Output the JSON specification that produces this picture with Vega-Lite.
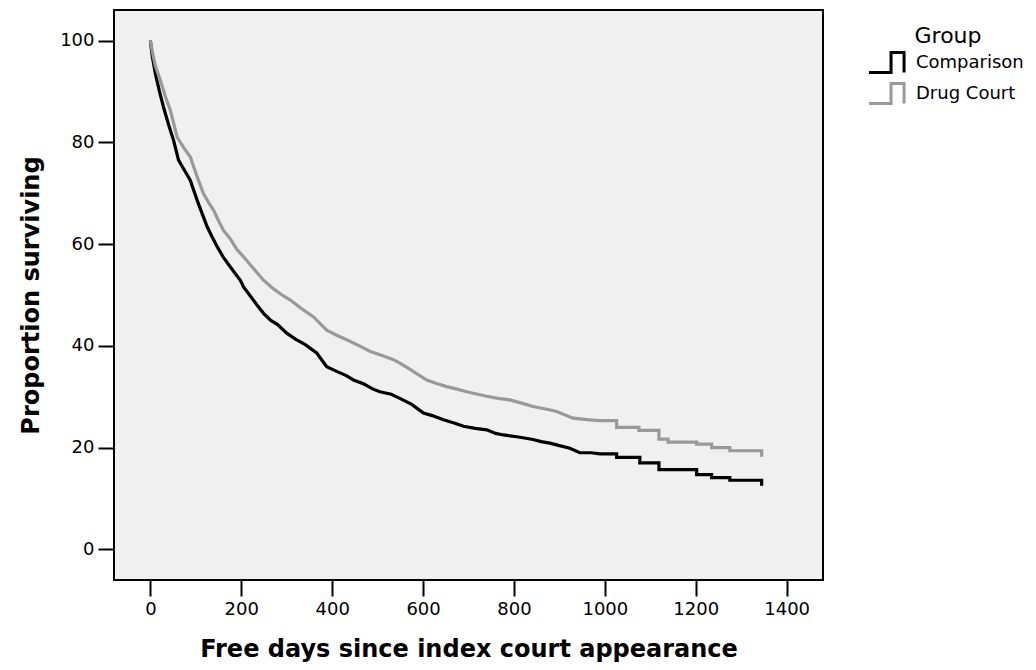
{
  "$schema": "https://vega.github.io/schema/vega-lite/v6.json",
  "width": 709,
  "height": 570,
  "autosize": "none",
  "padding": {"left": 114, "top": 10, "right": 213, "bottom": 90},
  "background": "white",
  "config": {
    "view": {"fill": "#f0f0f0", "stroke": "black", "strokeWidth": 2},
    "axis": {
      "domain": false,
      "grid": false,
      "ticks": true,
      "tickColor": "black",
      "tickWidth": 2,
      "tickSize": 16,
      "labelPadding": 4,
      "labelFont": "DejaVu Sans",
      "labelFontSize": 18,
      "labelColor": "black",
      "titleFont": "DejaVu Sans",
      "titleFontSize": 24,
      "titleFontWeight": "bold",
      "titleColor": "black"
    }
  },
  "data": {
    "values": [
      {"group": "Comparison", "day": 0, "pct": 100},
      {"group": "Comparison", "day": 4, "pct": 97},
      {"group": "Comparison", "day": 11, "pct": 93.5},
      {"group": "Comparison", "day": 20, "pct": 90},
      {"group": "Comparison", "day": 29, "pct": 86.9},
      {"group": "Comparison", "day": 40, "pct": 83.5},
      {"group": "Comparison", "day": 51, "pct": 80.4},
      {"group": "Comparison", "day": 62, "pct": 76.5},
      {"group": "Comparison", "day": 75, "pct": 74.5},
      {"group": "Comparison", "day": 88, "pct": 72.5},
      {"group": "Comparison", "day": 103, "pct": 68.6},
      {"group": "Comparison", "day": 114, "pct": 66},
      {"group": "Comparison", "day": 125, "pct": 63.4},
      {"group": "Comparison", "day": 136, "pct": 61.4},
      {"group": "Comparison", "day": 147, "pct": 59.5},
      {"group": "Comparison", "day": 160, "pct": 57.5},
      {"group": "Comparison", "day": 176, "pct": 55.5},
      {"group": "Comparison", "day": 198, "pct": 52.9},
      {"group": "Comparison", "day": 205, "pct": 51.6},
      {"group": "Comparison", "day": 220, "pct": 49.8},
      {"group": "Comparison", "day": 235, "pct": 48},
      {"group": "Comparison", "day": 249, "pct": 46.4},
      {"group": "Comparison", "day": 265, "pct": 45},
      {"group": "Comparison", "day": 280, "pct": 44.2},
      {"group": "Comparison", "day": 300, "pct": 42.5},
      {"group": "Comparison", "day": 320, "pct": 41.3},
      {"group": "Comparison", "day": 340, "pct": 40.3},
      {"group": "Comparison", "day": 366, "pct": 38.6},
      {"group": "Comparison", "day": 388, "pct": 35.9},
      {"group": "Comparison", "day": 410, "pct": 35},
      {"group": "Comparison", "day": 430, "pct": 34.2},
      {"group": "Comparison", "day": 447, "pct": 33.3},
      {"group": "Comparison", "day": 470, "pct": 32.5},
      {"group": "Comparison", "day": 490, "pct": 31.5},
      {"group": "Comparison", "day": 505, "pct": 31},
      {"group": "Comparison", "day": 530, "pct": 30.5},
      {"group": "Comparison", "day": 549, "pct": 29.7},
      {"group": "Comparison", "day": 575, "pct": 28.5},
      {"group": "Comparison", "day": 601, "pct": 26.8},
      {"group": "Comparison", "day": 620, "pct": 26.3},
      {"group": "Comparison", "day": 645, "pct": 25.5},
      {"group": "Comparison", "day": 670, "pct": 24.8},
      {"group": "Comparison", "day": 689, "pct": 24.2},
      {"group": "Comparison", "day": 715, "pct": 23.8},
      {"group": "Comparison", "day": 740, "pct": 23.5},
      {"group": "Comparison", "day": 760, "pct": 22.8},
      {"group": "Comparison", "day": 777, "pct": 22.5},
      {"group": "Comparison", "day": 810, "pct": 22.1},
      {"group": "Comparison", "day": 842, "pct": 21.6},
      {"group": "Comparison", "day": 860, "pct": 21.2},
      {"group": "Comparison", "day": 879, "pct": 20.9},
      {"group": "Comparison", "day": 900, "pct": 20.4},
      {"group": "Comparison", "day": 923, "pct": 19.9},
      {"group": "Comparison", "day": 945, "pct": 19.0},
      {"group": "Comparison", "day": 970, "pct": 19.0},
      {"group": "Comparison", "day": 989, "pct": 18.8},
      {"group": "Comparison", "day": 1026, "pct": 18.8},
      {"group": "Comparison", "day": 1026, "pct": 18.1},
      {"group": "Comparison", "day": 1077, "pct": 18.1},
      {"group": "Comparison", "day": 1077, "pct": 17.0},
      {"group": "Comparison", "day": 1119, "pct": 17.0},
      {"group": "Comparison", "day": 1119, "pct": 15.7},
      {"group": "Comparison", "day": 1202, "pct": 15.7},
      {"group": "Comparison", "day": 1202, "pct": 14.7},
      {"group": "Comparison", "day": 1235, "pct": 14.7},
      {"group": "Comparison", "day": 1235, "pct": 14.1},
      {"group": "Comparison", "day": 1275, "pct": 14.1},
      {"group": "Comparison", "day": 1275, "pct": 13.6},
      {"group": "Comparison", "day": 1345, "pct": 13.6},
      {"group": "Comparison", "day": 1345, "pct": 12.5},
      {"group": "Drug Court", "day": 0, "pct": 100},
      {"group": "Drug Court", "day": 5, "pct": 97.5},
      {"group": "Drug Court", "day": 11, "pct": 95},
      {"group": "Drug Court", "day": 22, "pct": 92.2},
      {"group": "Drug Court", "day": 33, "pct": 89},
      {"group": "Drug Court", "day": 44, "pct": 86.3},
      {"group": "Drug Court", "day": 59, "pct": 81},
      {"group": "Drug Court", "day": 73, "pct": 79},
      {"group": "Drug Court", "day": 88, "pct": 77.1},
      {"group": "Drug Court", "day": 103, "pct": 73.2},
      {"group": "Drug Court", "day": 117, "pct": 69.9},
      {"group": "Drug Court", "day": 128, "pct": 68.2},
      {"group": "Drug Court", "day": 139, "pct": 66.7},
      {"group": "Drug Court", "day": 150, "pct": 64.6},
      {"group": "Drug Court", "day": 161, "pct": 62.7},
      {"group": "Drug Court", "day": 176, "pct": 61},
      {"group": "Drug Court", "day": 190, "pct": 59},
      {"group": "Drug Court", "day": 205, "pct": 57.5},
      {"group": "Drug Court", "day": 226, "pct": 55.3},
      {"group": "Drug Court", "day": 249, "pct": 52.9},
      {"group": "Drug Court", "day": 271, "pct": 51.2},
      {"group": "Drug Court", "day": 290, "pct": 50},
      {"group": "Drug Court", "day": 308, "pct": 49},
      {"group": "Drug Court", "day": 330, "pct": 47.5},
      {"group": "Drug Court", "day": 359, "pct": 45.7},
      {"group": "Drug Court", "day": 388, "pct": 43.1},
      {"group": "Drug Court", "day": 410, "pct": 42.1},
      {"group": "Drug Court", "day": 432, "pct": 41.2},
      {"group": "Drug Court", "day": 460, "pct": 40},
      {"group": "Drug Court", "day": 484, "pct": 38.9},
      {"group": "Drug Court", "day": 510, "pct": 38.1},
      {"group": "Drug Court", "day": 535, "pct": 37.3},
      {"group": "Drug Court", "day": 549, "pct": 36.6},
      {"group": "Drug Court", "day": 575, "pct": 35.2},
      {"group": "Drug Court", "day": 608, "pct": 33.3},
      {"group": "Drug Court", "day": 630, "pct": 32.6},
      {"group": "Drug Court", "day": 652, "pct": 32.0},
      {"group": "Drug Court", "day": 675, "pct": 31.5},
      {"group": "Drug Court", "day": 696, "pct": 31.0},
      {"group": "Drug Court", "day": 720, "pct": 30.5},
      {"group": "Drug Court", "day": 740, "pct": 30.1},
      {"group": "Drug Court", "day": 765, "pct": 29.7},
      {"group": "Drug Court", "day": 791, "pct": 29.4},
      {"group": "Drug Court", "day": 815, "pct": 28.8},
      {"group": "Drug Court", "day": 842, "pct": 28.1},
      {"group": "Drug Court", "day": 870, "pct": 27.6},
      {"group": "Drug Court", "day": 894, "pct": 27.1},
      {"group": "Drug Court", "day": 930, "pct": 25.8},
      {"group": "Drug Court", "day": 960, "pct": 25.5},
      {"group": "Drug Court", "day": 989, "pct": 25.3},
      {"group": "Drug Court", "day": 1026, "pct": 25.3},
      {"group": "Drug Court", "day": 1026, "pct": 24.0},
      {"group": "Drug Court", "day": 1075, "pct": 24.0},
      {"group": "Drug Court", "day": 1075, "pct": 23.4},
      {"group": "Drug Court", "day": 1119, "pct": 23.4},
      {"group": "Drug Court", "day": 1119, "pct": 21.7},
      {"group": "Drug Court", "day": 1139, "pct": 21.7},
      {"group": "Drug Court", "day": 1139, "pct": 21.1},
      {"group": "Drug Court", "day": 1202, "pct": 21.1},
      {"group": "Drug Court", "day": 1202, "pct": 20.7},
      {"group": "Drug Court", "day": 1235, "pct": 20.7},
      {"group": "Drug Court", "day": 1235, "pct": 20.0},
      {"group": "Drug Court", "day": 1275, "pct": 20.0},
      {"group": "Drug Court", "day": 1275, "pct": 19.4},
      {"group": "Drug Court", "day": 1345, "pct": 19.4},
      {"group": "Drug Court", "day": 1345, "pct": 18.2}
    ]
  },
  "mark": {"type": "line", "strokeWidth": 3.2, "clip": true},
  "encoding": {
    "x": {
      "field": "day",
      "type": "quantitative",
      "scale": {"domain": [-80, 1480], "nice": false, "zero": false},
      "axis": {
        "values": [0, 200, 400, 600, 800, 1000, 1200, 1400],
        "format": "d",
        "title": "Free days since index court appearance",
        "titlePadding": 19
      }
    },
    "y": {
      "field": "pct",
      "type": "quantitative",
      "scale": {"domain": [-6, 106], "nice": false, "zero": false},
      "axis": {
        "values": [0, 20, 40, 60, 80, 100],
        "format": "d",
        "title": "Proportion surviving",
        "titlePadding": 16
      }
    },
    "color": {
      "field": "group",
      "type": "nominal",
      "scale": {"domain": ["Comparison", "Drug Court"], "range": ["#000000", "#999999"]},
      "legend": {
        "orient": "none",
        "legendX": 758,
        "legendY": 16,
        "title": "Group",
        "titleFont": "DejaVu Sans",
        "titleFontSize": 22,
        "titleFontWeight": "normal",
        "titleColor": "black",
        "titleAnchor": "middle",
        "titlePadding": 0,
        "labelFont": "DejaVu Sans",
        "labelFontSize": 18,
        "labelColor": "black",
        "labelOffset": 15,
        "symbolType": "M-1.35,0.77L0.35,0.77L0.35,-0.77L1.35,-0.77L1.35,0.77",
        "symbolSize": 676,
        "symbolStrokeWidth": 3,
        "symbolFillColor": "transparent",
        "rowPadding": -7,
        "padding": 0
      }
    }
  }
}
